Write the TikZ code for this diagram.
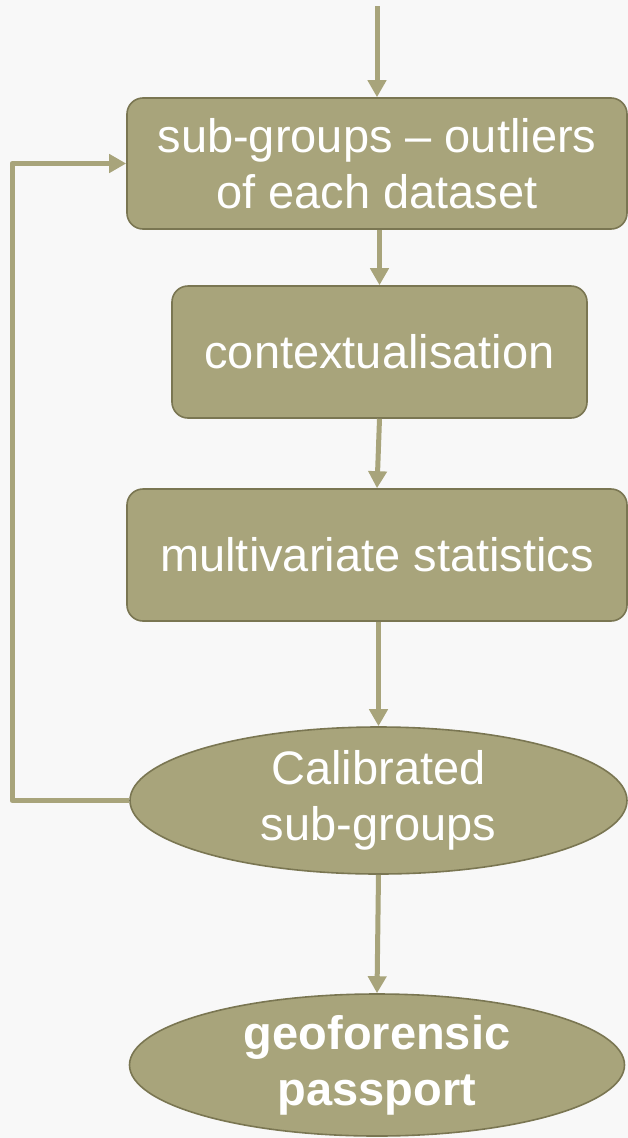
\documentclass[tikz,border=0pt]{standalone}
\usepackage{fontspec}
\setmainfont{Liberation Sans}
\usetikzlibrary{arrows.meta,shapes.geometric}
\definecolor{olivefill}{RGB}{168,164,123}
\definecolor{olivedraw}{RGB}{122,118,82}
\definecolor{bg}{RGB}{248,248,248}
\tikzset{
  flowbox/.style={draw=olivedraw, line width=1.6pt, fill=olivefill, rounded corners=16pt,
    text=white, align=center, inner sep=0pt,
    font=\fontsize{47}{56}\selectfont},
  flowoval/.style={ellipse, draw=olivedraw, line width=1.6pt, fill=olivefill,
    text=white, align=center, inner sep=0pt,
    font=\fontsize{47}{56}\selectfont},
  flowarrow/.style={draw=olivefill, line width=5pt, line join=round,
    -{Triangle[length=17pt,width=18pt]}}
}
\begin{document}
\begin{tikzpicture}[x=1pt,y=-1pt]
\useasboundingbox[fill=bg] (0,0) rectangle (628,1138);

\node[flowbox, minimum width=500pt, minimum height=131pt] (b1) at (377,163.5)
  {sub-groups -- outliers\\of each dataset};
\node[flowbox, minimum width=415pt, minimum height=132pt] (b2) at (379.5,352)
  {contextualisation};
\node[flowbox, minimum width=500pt, minimum height=132pt] (b3) at (377,555)
  {multivariate statistics};
\node[flowoval, minimum width=497pt, minimum height=147pt] (e1) at (378.5,800.5)
  {Calibrated\\sub-groups};
\node[flowoval, minimum width=495pt, minimum height=142pt] (e2) at (377,1065)
  {\bfseries geoforensic\\\bfseries passport};

\coordinate (start) at (377,6);
\coordinate (loop) at (12,163);

\draw[flowarrow] (start) -- (b1.north);
\draw[flowarrow] (b1.south -| b2.north) -- (b2.north);
\draw[flowarrow] (b2.south) -- (b3.north);
\draw[flowarrow] (b3.south -| e1.north) -- (e1.north);
\draw[flowarrow] (e1.south) -- (e2.north);
\draw[flowarrow] (e1.west) -- (e1.west -| loop) |- (b1.west);
\end{tikzpicture}
\end{document}
